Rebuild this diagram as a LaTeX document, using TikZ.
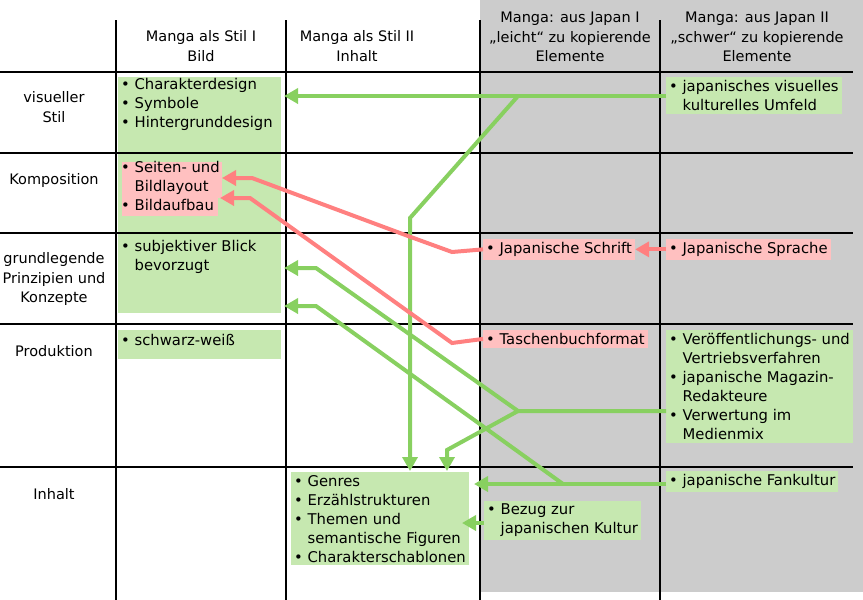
\documentclass[tikz,border=0pt]{standalone}
\usepackage{fontspec}
\setmainfont{DejaVu Sans}
\usetikzlibrary{arrows.meta}
\definecolor{gbox}{HTML}{C6E8B0}
\definecolor{rbox}{HTML}{FFC0C0}
\definecolor{garr}{HTML}{88D060}
\definecolor{rarr}{HTML}{FF8080}
\begin{document}
\begin{tikzpicture}[x=1pt,y=-1pt,
    gnode/.style={fill=gbox, align=left, anchor=north west, inner sep=0pt, font=\fontsize{14.8}{19}\selectfont},
    rnode/.style={gnode, fill=rbox},
    txt/.style={align=center, font=\fontsize{14.5}{19.5}\selectfont},
    garrow/.style={draw=garr, line width=4pt, -{Triangle[length=14pt,width=15pt]}},
    rarrow/.style={draw=rarr, line width=4pt, -{Triangle[length=14pt,width=15pt]}},
    grid/.style={line width=1.2pt}]
    \useasboundingbox (0,0) rectangle (863,600);
    %Background
    \fill[black!20] (480,0) rectangle (863,592);
    \fill[gbox] (118,77) rectangle (281,313);
    \fill[gbox] (118,330) rectangle (281,359);
    \fill[rbox] (122,162) rectangle (222,198);
    \fill[rbox] (122,198) rectangle (218,216);
    %Grid
    \foreach \x in {116,286,480,660} \draw[grid] (\x,20) -- (\x,600);
    \foreach \y in {72,153,233,324,467} \draw[grid] (0,\y) -- (853,\y);
    %Headers
    \node[txt] (c1) at (201,46) {Manga als Stil I\\Bild};
    \node[txt] (c2) at (357,46) {Manga als Stil II\\Inhalt};
    \node[txt] (c3) at (570,37) {Manga: aus Japan I\\„leicht“ zu kopierende\\Elemente};
    \node[txt] (c4) at (757,37) {Manga: aus Japan II\\„schwer“ zu kopierende\\Elemente};
    \node[txt] (r1) at (54,107) {visueller\\Stil};
    \node[txt] (r2) at (54,180) {Komposition};
    \node[txt] (r3) at (54,279) {grundlegende\\Prinzipien und\\Konzepte};
    \node[txt] (r4) at (54,351) {Produktion};
    \node[txt] (r5) at (54,494) {Inhalt};
    %Boxes
    \node[gnode, fill=none] (vis) at (121,78) {• Charakterdesign\\• Symbole\\• Hintergrunddesign};
    \node[gnode, fill=none] (komp) at (121,161) {• Seiten- und\\\phantom{• }Bildlayout\\• Bildaufbau};
    \node[gnode, fill=none] (blick) at (121,240) {• subjektiver Blick\\\phantom{• }bevorzugt};
    \node[gnode, fill=none] (sw) at (121,334) {• schwarz-weiß};
    \node[gnode, inner sep=3pt] (umf) at (666,77) {• japanisches visuelles\\\phantom{• }kulturelles Umfeld};
    \node[rnode, inner sep=3pt] (schrift) at (483,239) {• Japanische Schrift};
    \node[rnode, inner sep=3pt] (sprache) at (666,239) {• Japanische Sprache};
    \node[rnode, inner sep=3pt] (tasch) at (483,330) {• Taschenbuchformat};
    \node[gnode, inner sep=3pt] (vertr) at (666,330) {• Veröffentlichungs- und\\\phantom{• }Vertriebsverfahren\\• japanische Magazin-\\\phantom{• }Redakteure\\• Verwertung im\\\phantom{• }Medienmix};
    \node[gnode, inner sep=3pt] (fan) at (666,471) {• japanische Fankultur};
    \node[gnode, inner sep=3pt] (genres) at (291,472) {• Genres\\• Erzählstrukturen\\• Themen und\\\phantom{• }semantische Figuren\\• Charakterschablonen};
    \node[gnode, inner sep=3pt] (bezug) at (484,501) {• Bezug zur\\\phantom{• }japanischen Kultur};
    %Green arrows
    \draw[garrow] (umf.west |- 0,96) -- (284,96);
    \draw[garrow] (518,96) -- (410,218) -- (410,471);
    \draw[garrow] (vertr.west |- 0,411) -- (518,411) -- (316,268) -- (284,268);
    \draw[garrow] (518,411) -- (447,450) -- (447,471);
    \draw[garrow] (fan.west |- 0,484) -- (474,484);
    \draw[garrow] (563,484) -- (316,306) -- (284,306);
    \draw[garrow] (bezug.west |- 0,523) -- (462,523);
    %Red arrows
    \draw[rarrow] (schrift.west) -- (452,252) -- (408,236) -- (252,178) -- (222,178);
    \draw[rarrow] (tasch.west) -- (452,343) -- (250,198) -- (220,198);
    \draw[rarrow] (sprache.west) -- (schrift.east);
\end{tikzpicture}
\end{document}
